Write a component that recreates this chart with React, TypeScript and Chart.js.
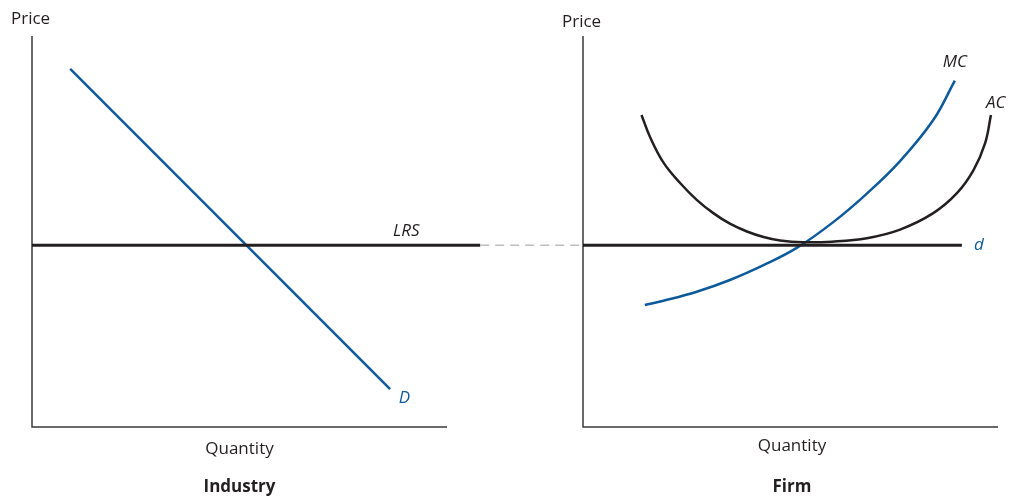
import React, { useEffect, useRef } from "react";
import { Chart, registerables } from "chart.js";

Chart.register(...registerables);

// ---------- data (quantity / price units, 0..100 on each panel) ----------
const lrsPrice = 46.5;
const lrsQuantity = [0, 108];
const connectorQuantity = [108, 132.8];

const demandQuantity = [9.2, 86.3];
const demandPrice = [91.6, 9.7];

const firmPrice = 46.5;
const firmDemandQuantity = [0, 91.3];

const acQuantity = [
  14.1, 16.1, 19.4, 23.4, 27.4, 31.4, 35.4, 39.5, 43.5, 47.5,
  53.0, 60.0, 68.4, 76.4, 84.4, 90.1, 94.1, 96.9, 98.3,
];
const acPrice = [
  79.8, 74.3, 67.6, 62.4, 58.1, 54.7, 52.0, 50.0, 48.6, 47.7,
  47.25, 47.4, 48.3, 50.5, 54.7, 59.8, 65.7, 72.6, 79.8,
];

const mcQuantity = [14.9, 19.4, 27.4, 35.4, 43.5, 51.5, 60.3, 68.4, 76.4, 84.4, 89.6];
const mcPrice = [31.2, 32.3, 34.6, 37.6, 41.4, 45.8, 52.4, 59.7, 68.0, 78.5, 88.6];

const industryLabelText = ["LRS", "D"];
const industryLabelQ = [87.0, 88.4];
const industryLabelP = [48.8, 6.1];

const firmLabelText = ["MC", "AC", "d"];
const firmLabelQ = [86.7, 97.1, 94.2];
const firmLabelP = [92.1, 81.6, 45.3];

// ---------- styles ----------
const BLUE = "#0d5a9b";
const DARK = "#231f20";
const AXIS = "#3a3a3a";
const FONT = "'Open Sans', 'Noto Sans', sans-serif";

const pts = (xs: number[], ys: number[]) => xs.map((x, i) => ({ x, y: ys[i] }));

const axesPlugin = {
  id: "panelAxes",
  beforeDatasetsDraw(chart: any) {
    const { ctx, chartArea } = chart;
    const { left, right, top, bottom } = chartArea;
    ctx.save();
    ctx.strokeStyle = AXIS;
    ctx.lineWidth = 1.5;
    ctx.beginPath();
    ctx.moveTo(left, top);
    ctx.lineTo(left, bottom);
    ctx.lineTo(right, bottom);
    ctx.stroke();
    ctx.restore();
  },
};

function labelPlugin(texts: string[], qs: number[], ps: number[], colors: string[]) {
  return {
    id: "curveLabels",
    afterDatasetsDraw(chart: any) {
      const { ctx } = chart;
      const xs = chart.scales.x;
      const ys = chart.scales.y;
      ctx.save();
      ctx.font = `italic 17px ${FONT}`;
      ctx.textAlign = "left";
      ctx.textBaseline = "alphabetic";
      texts.forEach((t, i) => {
        ctx.fillStyle = colors[i];
        ctx.fillText(t, xs.getPixelForValue(qs[i]), ys.getPixelForValue(ps[i]));
      });
      ctx.restore();
    },
  };
}

const baseOptions = (padding: any) => ({
  responsive: false,
  animation: false as const,
  events: [],
  layout: { padding },
  plugins: { legend: { display: false }, tooltip: { enabled: false } },
  scales: {
    x: { type: "linear" as const, min: 0, max: 100, display: false },
    y: { type: "linear" as const, min: 0, max: 100, display: false },
  },
  elements: { point: { radius: 0 } },
});

const textStyle: React.CSSProperties = {
  position: "absolute",
  fontFamily: FONT,
  fontSize: 17,
  lineHeight: "17px",
  color: DARK,
  whiteSpace: "nowrap",
};

function CenterText({ cx, top, bold, children }: any) {
  return (
    <div
      style={{
        ...textStyle,
        left: cx - 100,
        width: 200,
        top,
        textAlign: "center",
        fontWeight: bold ? 700 : 400,
      }}
    >
      {children}
    </div>
  );
}

export default function App() {
  const leftRef = useRef<HTMLCanvasElement>(null);
  const rightRef = useRef<HTMLCanvasElement>(null);

  useEffect(() => {
    const left = new Chart(leftRef.current as HTMLCanvasElement, {
      type: "scatter",
      data: {
        datasets: [
          {
            data: pts(connectorQuantity, [lrsPrice, lrsPrice]),
            showLine: true,
            borderColor: "#bdbdbd",
            borderWidth: 1.5,
            borderDash: [9, 6],
            clip: false,
          } as any,
          {
            data: pts(lrsQuantity, [lrsPrice, lrsPrice]),
            showLine: true,
            borderColor: DARK,
            borderWidth: 3,
            clip: false,
          },
          {
            data: pts(demandQuantity, demandPrice),
            showLine: true,
            borderColor: BLUE,
            borderWidth: 2.5,
          },
        ],
      },
      options: baseOptions({ left: 32, right: 153, top: 36, bottom: 71 }) as any,
      plugins: [axesPlugin, labelPlugin(industryLabelText, industryLabelQ, industryLabelP, [DARK, BLUE])],
    });

    const right = new Chart(rightRef.current as HTMLCanvasElement, {
      type: "scatter",
      data: {
        datasets: [
          {
            data: pts(firmDemandQuantity, [firmPrice, firmPrice]),
            showLine: true,
            borderColor: DARK,
            borderWidth: 3,
          },
          {
            data: pts(acQuantity, acPrice),
            showLine: true,
            borderColor: DARK,
            borderWidth: 2.5,
            tension: 0.4,
            clip: false,
          } as any,
          {
            data: pts(mcQuantity, mcPrice),
            showLine: true,
            borderColor: BLUE,
            borderWidth: 2.5,
            tension: 0.4,
          } as any,
        ],
      },
      options: baseOptions({ left: 43, right: 12, top: 36, bottom: 71 }) as any,
      plugins: [axesPlugin, labelPlugin(firmLabelText, firmLabelQ, firmLabelP, [DARK, DARK, BLUE])],
    });

    return () => {
      left.destroy();
      right.destroy();
    };
  }, []);

  return (
    <div
      style={{
        position: "absolute",
        left: 0,
        top: 0,
        width: 1010,
        height: 498,
        overflow: "hidden",
        background: "#ffffff",
      }}
    >
      <canvas
        ref={leftRef}
        width={600}
        height={498}
        style={{ position: "absolute", left: 0, top: 0, width: 600, height: 498 }}
      />
      <canvas
        ref={rightRef}
        width={470}
        height={498}
        style={{ position: "absolute", left: 540, top: 0, width: 470, height: 498 }}
      />
      <div style={{ ...textStyle, left: 11, top: 9 }}>Price</div>
      <div style={{ ...textStyle, left: 562, top: 12 }}>Price</div>
      <CenterText cx={239.5} top={439}>Quantity</CenterText>
      <CenterText cx={792} top={435.5}>Quantity</CenterText>
      <CenterText cx={239.5} top={477} bold>Industry</CenterText>
      <CenterText cx={792} top={477} bold>Firm</CenterText>
    </div>
  );
}
